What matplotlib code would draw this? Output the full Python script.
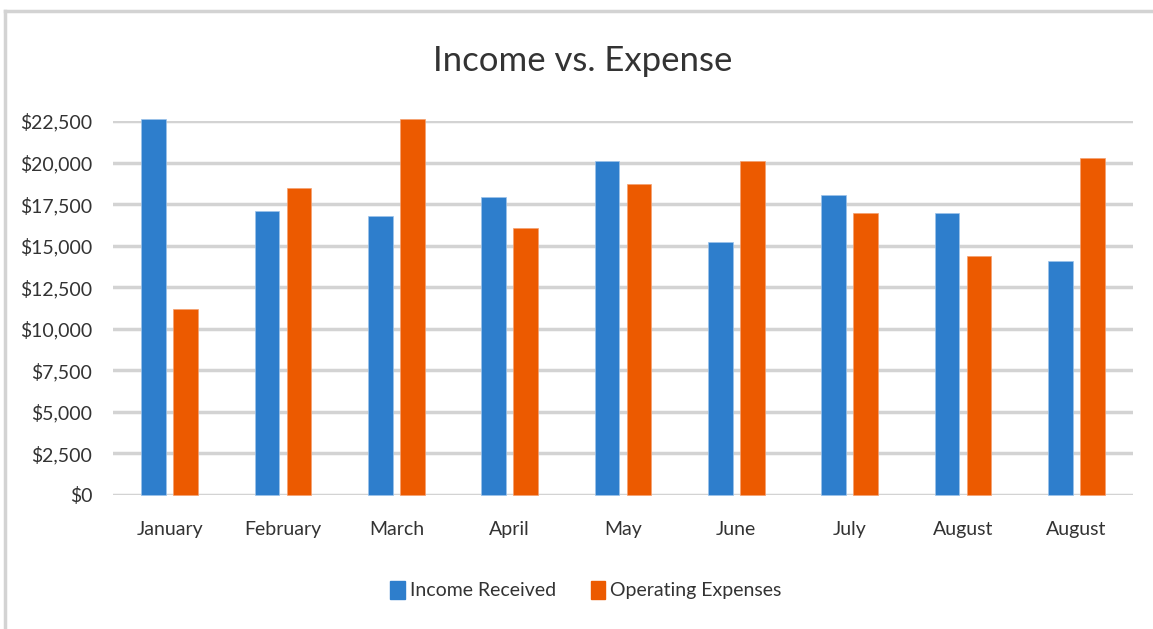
import matplotlib.pyplot as plt
import matplotlib.patches as mpatches
from matplotlib.lines import Line2D
import numpy as np

plt.rcParams['font.family'] = ['Lato', 'DejaVu Sans']

# data
months = ['January', 'February', 'March', 'April', 'May', 'June', 'July', 'August', 'August']
income = [22650, 17100, 16800, 17900, 20100, 15200, 18050, 16950, 14100]
expenses = [11170, 18450, 22650, 16050, 18700, 20100, 16950, 14400, 20300]
yticks = [0, 2500, 5000, 7500, 10000, 12500, 15000, 17500, 20000, 22500]

blue = '#2E7ECC'
orange = '#EC5A00'
text_col = '#333333'
grid_col = '#D3D3D3'

W, H = 1153, 629
fig = plt.figure(figsize=(W / 100, H / 100), dpi=100)
ax = fig.add_axes([113 / W, 1 - 495 / H, 1020 / W, 374 / H])

x = np.arange(len(months))
bw = 0.22
ax.bar(x - 0.141, income, bw, color=blue, edgecolor='#9CC3EA', linewidth=0.5, clip_on=False, zorder=3)
ax.bar(x + 0.141, expenses, bw, color=orange, edgecolor='#F4A070', linewidth=0.5, clip_on=False, zorder=3)

ax.set_xlim(-0.5, len(months) - 0.5)
ax.set_ylim(0, 22500)
ax.set_yticks(yticks)
ax.set_yticklabels(['${:,}'.format(v) for v in yticks])
ax.set_xticks(x)
ax.set_xticklabels(months)
ax.yaxis.grid(True, color=grid_col, linewidth=2.5, zorder=0)
ax.set_axisbelow(True)
for s in ax.spines.values():
    s.set_visible(False)
ax.tick_params(axis='both', length=0, labelsize=14, colors=text_col)
ax.tick_params(axis='y', pad=15)
ax.tick_params(axis='x', pad=19)

fig.text(583 / W, 1 - 61 / H, 'Income vs. Expense', ha='center', va='center',
         fontsize=25, color=text_col)

handles = [mpatches.Patch(color=blue, label='Income Received'),
           mpatches.Patch(color=orange, label='Operating Expenses')]
fig.legend(handles=handles, loc='center', bbox_to_anchor=(586 / W, 1 - 590 / H), ncol=2,
           frameon=False, fontsize=14, handlelength=0.75, handleheight=1.1,
           handletextpad=0.25, columnspacing=1.8, labelcolor=text_col)

# light frame on top and left edge
fig.add_artist(Line2D([5 / W, 5 / W], [0, 1 - 11 / H], color=grid_col, linewidth=2.5))
fig.add_artist(Line2D([5 / W, 1], [1 - 11 / H, 1 - 11 / H], color=grid_col, linewidth=2.5))

fig.savefig('out.png', dpi=100)
